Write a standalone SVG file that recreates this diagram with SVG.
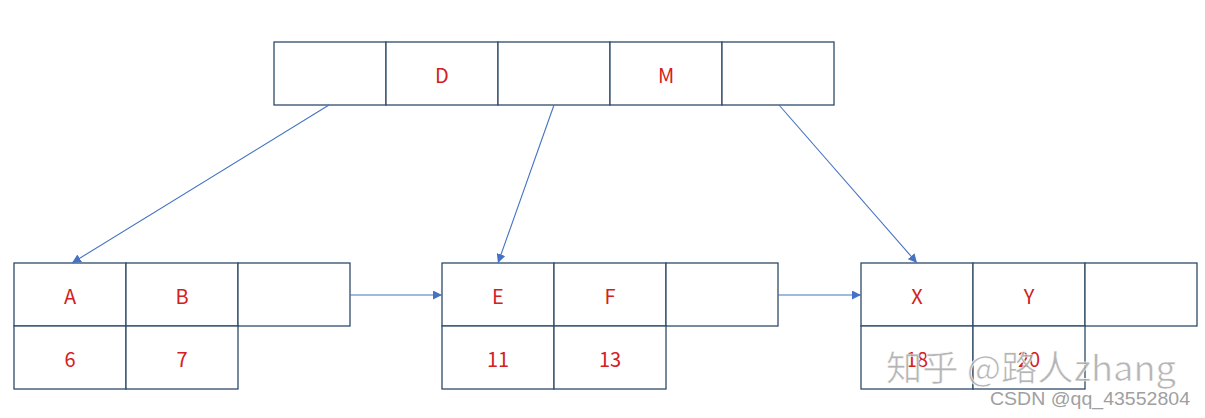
<svg xmlns="http://www.w3.org/2000/svg" width="1205" height="418" viewBox="0 0 1205 418">
<style>
.cell{fill:#fff;stroke:#2F4B69;stroke-width:1.3}
.t{font-family:"Noto Sans CJK SC","Liberation Sans",sans-serif;font-size:20px;fill:#D42020;text-anchor:middle;dominant-baseline:central}
.c{stroke:#4472C4;stroke-width:1.1;fill:none;marker-end:url(#ah)}
.wm{font-family:"Noto Sans CJK SC","Liberation Sans",sans-serif;fill:#A8A8A8}
</style>
<defs>
<marker id="ah" viewBox="0 0 10 10" refX="10" refY="5" markerWidth="9" markerHeight="9" markerUnits="userSpaceOnUse" orient="auto">
<path d="M0,0 L10,5 L0,10 z" fill="#4472C4"/>
</marker>
</defs>
<rect width="1205" height="418" fill="#fff"/>
<g id="root">
<rect class="cell" x="274" y="42" width="112" height="63"/>
<rect class="cell" x="386" y="42" width="112" height="63"/>
<rect class="cell" x="498" y="42" width="112" height="63"/>
<rect class="cell" x="610" y="42" width="112" height="63"/>
<rect class="cell" x="722" y="42" width="112" height="63"/>
<text class="t" x="442" y="74">D</text>
<text class="t" x="666" y="74">M</text>
</g>
<g id="leaf1">
<rect class="cell" x="14" y="263" width="112" height="63"/>
<rect class="cell" x="126" y="263" width="112" height="63"/>
<rect class="cell" x="238" y="263" width="112" height="63"/>
<rect class="cell" x="14" y="326" width="112" height="63"/>
<rect class="cell" x="126" y="326" width="112" height="63"/>
<text class="t" x="70" y="295">A</text>
<text class="t" x="182" y="295">B</text>
<text class="t" x="70" y="358">6</text>
<text class="t" x="182" y="358">7</text>
</g>
<g id="leaf2">
<rect class="cell" x="442" y="263" width="112" height="63"/>
<rect class="cell" x="554" y="263" width="112" height="63"/>
<rect class="cell" x="666" y="263" width="112" height="63"/>
<rect class="cell" x="442" y="326" width="112" height="63"/>
<rect class="cell" x="554" y="326" width="112" height="63"/>
<text class="t" x="498" y="295">E</text>
<text class="t" x="610" y="295">F</text>
<text class="t" x="498" y="358">11</text>
<text class="t" x="610" y="358">13</text>
</g>
<g id="leaf3">
<rect class="cell" x="861" y="263" width="112" height="63"/>
<rect class="cell" x="973" y="263" width="112" height="63"/>
<rect class="cell" x="1085" y="263" width="112" height="63"/>
<rect class="cell" x="861" y="326" width="112" height="63"/>
<rect class="cell" x="973" y="326" width="112" height="63"/>
<text class="t" x="917" y="295">X</text>
<text class="t" x="1029" y="295">Y</text>
<text class="t" x="917" y="358">18</text>
<text class="t" x="1029" y="358">20</text>
</g>
<g id="connectors">
<line class="c" x1="329" y1="105" x2="72" y2="263"/>
<line class="c" x1="554" y1="105" x2="498" y2="263"/>
<line class="c" x1="779" y1="105" x2="917" y2="263"/>
<line class="c" x1="350" y1="295" x2="442" y2="295"/>
<line class="c" x1="778" y1="295" x2="861" y2="295"/>
</g>
<g id="watermark">
<text class="wm" x="886" y="381" font-size="35" fill-opacity="0.85" stroke="#fff" stroke-width="0.6" textLength="290" lengthAdjust="spacingAndGlyphs">知乎 @路人zhang</text>
<text x="990" y="405" font-family="Liberation Sans, sans-serif" font-size="19" fill="#A0A0A0" textLength="200" lengthAdjust="spacingAndGlyphs">CSDN @qq_43552804</text>
</g>
</svg>
